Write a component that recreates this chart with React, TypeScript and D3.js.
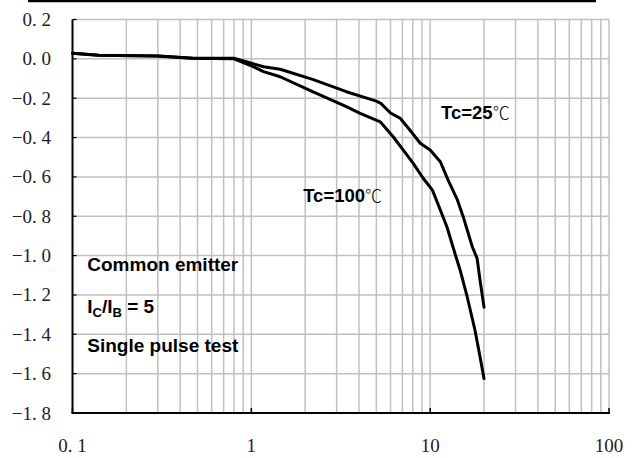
import React from "react";
import * as d3 from "d3";

const xTicks = [0.1, 1, 10, 100];
const xTickLabels = ["0. 1", "1", "10", "100"];
const yTicks = [0.2, 0.0, -0.2, -0.4, -0.6, -0.8, -1.0, -1.2, -1.4, -1.6, -1.8];
const yTickLabels = ["0. 2", "0. 0", "\u22120. 2", "\u22120. 4", "\u22120. 6", "\u22120. 8", "\u22121. 0", "\u22121. 2", "\u22121. 4", "\u22121. 6", "\u22121. 8"];

const x25 = [0.1, 0.14, 0.3, 0.47, 0.8, 1.0, 1.17, 1.45, 2.2, 3.4, 5.0, 5.3, 6.0, 6.8, 7.7, 8.8, 10.0, 11.4, 12.6, 14.2, 15.3, 17.2, 18.3, 19.0, 20];
const y25 = [0.028, 0.018, 0.015, 0.003, 0.003, -0.022, -0.04, -0.053, -0.104, -0.167, -0.215, -0.226, -0.275, -0.302, -0.362, -0.429, -0.463, -0.523, -0.616, -0.717, -0.802, -0.955, -1.014, -1.124, -1.262];

const x100 = [0.1, 0.14, 0.3, 0.47, 0.8, 1.0, 1.17, 1.45, 2.2, 3.4, 4.06, 5.26, 6.21, 7.06, 8.04, 9.14, 10.3, 11.4, 12.4, 13.4, 14.7, 16.1, 17.8, 19.0, 20];
const y100 = [0.028, 0.018, 0.015, 0.003, 0.0, -0.035, -0.065, -0.091, -0.167, -0.243, -0.277, -0.32, -0.396, -0.463, -0.531, -0.607, -0.667, -0.768, -0.853, -0.955, -1.073, -1.209, -1.378, -1.514, -1.625];

const W = 642;
const H = 458;
const left = 72.5;
const right = 609;
const top = 19.5;
const bottom = 413;

export default function App() {
  const x = d3.scaleLog().domain([0.1, 100]).range([left, right]);
  const y = d3.scaleLinear().domain([-1.8, 0.2]).range([bottom, top]);

  const minor: number[] = [];
  [0.1, 1, 10].forEach((d) => {
    for (let k = 2; k <= 9; k++) minor.push(d * k);
  });
  const vGrid = [...minor, 1, 10, 100];

  const line = d3
    .line<[number, number]>()
    .x((d) => x(d[0]))
    .y((d) => y(d[1]))
    .curve(d3.curveLinear);

  const d25 = line(x25.map((v, i) => [v, y25[i]] as [number, number])) || "";
  const d100 = line(x100.map((v, i) => [v, y100[i]] as [number, number])) || "";

  const grid = "#c0c0c0";
  const sans = "'Liberation Sans', Arial, sans-serif";
  const serif = "'Liberation Serif', 'Times New Roman', serif";
  const cjk = "'Noto Sans CJK SC', sans-serif";

  return (
    <svg
      width={W}
      height={H}
      viewBox={`0 0 ${W} ${H}`}
      style={{ position: "absolute", left: 0, top: 0, background: "#fff" }}
    >
      <line x1={28} x2={596} y1={1} y2={1} stroke="#000" strokeWidth={2.5} />
      {vGrid.map((v, i) => (
        <line key={"v" + i} x1={x(v)} x2={x(v)} y1={top} y2={bottom} stroke={grid} strokeWidth={1.5} />
      ))}
      {yTicks.map((v, i) => (
        <line key={"h" + i} x1={left} x2={right} y1={y(v)} y2={y(v)} stroke={grid} strokeWidth={1.5} />
      ))}
      <line x1={left} x2={left} y1={top} y2={bottom} stroke="#000" strokeWidth={2} />
      <line x1={left - 1} x2={right + 1} y1={bottom} y2={bottom} stroke="#000" strokeWidth={2} />
      {yTicks.map((v, i) => (
        <line key={"yt" + i} x1={left} x2={left + 4} y1={y(v)} y2={y(v)} stroke="#000" strokeWidth={1.2} />
      ))}
      {xTicks.map((v, i) => (
        <line key={"xt" + i} x1={x(v)} x2={x(v)} y1={bottom} y2={bottom - 5} stroke="#000" strokeWidth={1.5} />
      ))}
      {yTicks.map((v, i) => (
        <text key={"yl" + i} x={51} y={y(v) + 6.5} textAnchor="end" fontFamily={serif} fontSize={19} fill="#222">
          {yTickLabels[i]}
        </text>
      ))}
      {xTicks.map((v, i) => (
        <text key={"xl" + i} x={x(v)} y={452} textAnchor="middle" fontFamily={serif} fontSize={19} fill="#222">
          {xTickLabels[i]}
        </text>
      ))}
      <path d={d25} fill="none" stroke="#000" strokeWidth={3} strokeLinejoin="round" strokeLinecap="round" />
      <path d={d100} fill="none" stroke="#000" strokeWidth={3} strokeLinejoin="round" strokeLinecap="round" />

      <text x={x(11.5)} y={y(-0.307)} fontFamily={sans} fontWeight="bold" fontSize={18.5} fill="#000">
        Tc=25
        <tspan fontFamily={cjk} fontWeight={300} fontSize={17}>℃</tspan>
      </text>
      <text x={x(1.95)} y={y(-0.726)} fontFamily={sans} fontWeight="bold" fontSize={18.5} fill="#000">
        Tc=100
        <tspan fontFamily={cjk} fontWeight={300} fontSize={17}>℃</tspan>
      </text>
      <text x={x(0.121)} y={y(-1.078)} fontFamily={sans} fontWeight="bold" fontSize={19} fill="#000">
        Common emitter
      </text>
      <text x={x(0.121)} y={y(-1.293)} fontFamily={sans} fontWeight="bold" fontSize={19} fill="#000">
        I<tspan fontSize={13} dy={4}>C</tspan>
        <tspan dy={-4}>/I</tspan>
        <tspan fontSize={13} dy={4}>B</tspan>
        <tspan dy={-4}> = 5</tspan>
      </text>
      <text x={x(0.121)} y={y(-1.491)} fontFamily={sans} fontWeight="bold" fontSize={19} fill="#000">
        Single pulse test
      </text>
    </svg>
  );
}
